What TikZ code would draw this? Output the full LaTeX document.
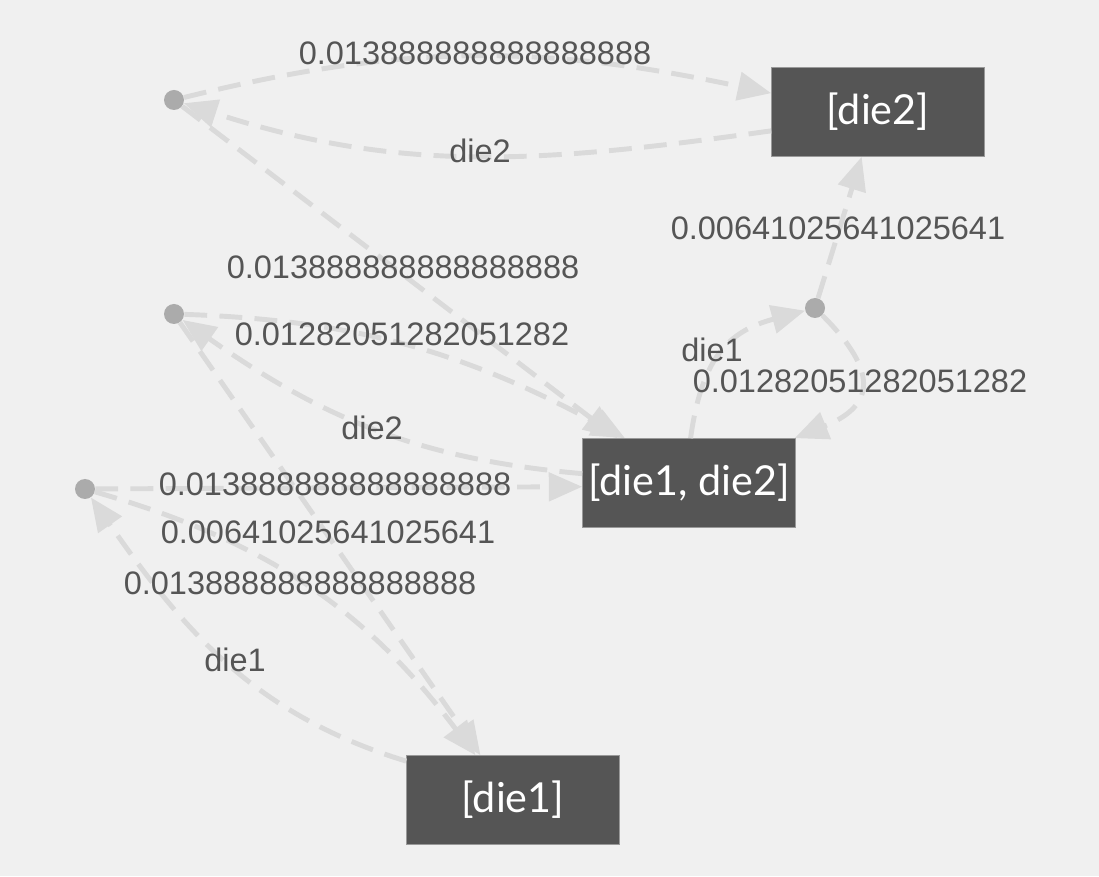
\documentclass[tikz,border=0pt]{standalone}
\usepackage{fontspec}
\setmainfont{Liberation Sans}
\newfontfamily\boxfont{Lato}
\usepackage{xcolor}
\usetikzlibrary{arrows.meta}

\definecolor{bgcol}{HTML}{F0F0F0}
\definecolor{boxcol}{HTML}{555555}
\definecolor{edgecol}{HTML}{DADADA}
\definecolor{dotcol}{HTML}{ABABAB}
\definecolor{txtcol}{HTML}{555555}

\begin{document}
\begin{tikzpicture}[
	x=0.02cm,y=0.02cm,
	>={Triangle[length=19pt,width=16pt]},
	statebox/.style={rectangle, fill=boxcol, draw=gray!80, line width=0.4pt,
		minimum width=4.26cm, minimum height=1.78cm, inner sep=0pt,
		text=white, font=\boxfont\fontsize{23.5pt}{26pt}\selectfont},
	pick/.style={circle, fill=dotcol, minimum size=0.4cm, inner sep=0pt},
	flow/.style={->, draw=edgecol, line width=2.8pt,
		dash pattern=on 13pt off 7pt},
	prob/.style={text=txtcol, inner sep=1pt, font=\fontsize{18.5pt}{22pt}\selectfont}
	]
	%----- canvas
	\fill[bgcol] (0,0) rectangle (1099,876);
	\useasboundingbox (0,0) rectangle (1099,876);
	
	%----- state boxes
	\node[statebox] (die2)  at (878,764) {[die2]};
	\node[statebox] (die12) at (689,393) {[die1, die2]};
	\node[statebox] (die1)  at (513,76)  {[die1]};
	
	%----- choice dots
	\node[pick] (pA) at (174,776) {};
	\node[pick] (pB) at (174,562) {};
	\node[pick] (pC) at (85,387)  {};
	\node[pick] (pD) at (815,568) {};
	
	%----- edges out of the dots
	\draw[flow] (pA) to[out=14,in=168] (die2.170);
	\draw[flow] (pA) -- (die12.148);
	\draw[flow] (pB) to[out=-2,in=152] (die12.145);
	\draw[flow] (pC) -- (die12.182);
	\draw[flow] (pC) to[out=-16,in=127] (die1.130);
	\draw[flow] (pB) -- (die1.126);
	\draw[flow] (pD) -- (die2.250);
	\draw[flow] (pD) to[out=-45,in=22,looseness=1.7] (die12.23);
	
	%----- edges back to the dots
	\draw[flow] (die2.190) to[out=188,in=-18] (pA);
	\draw[flow] (die12.175) to[out=175,in=-35] (pB);
	\draw[flow] (die1.160) to[out=163,in=-55] (pC);
	\draw[flow] (die12.88) to[out=82,in=195,looseness=1.2] (pD);
	
	%----- labels
	\node[prob] (l1)  at (475,823) {0.013888888888888888};
	\node[prob] (l2)  at (480,725) {die2};
	\node[prob] (l3)  at (403,609) {0.013888888888888888};
	\node[prob] (l4)  at (402,542) {0.01282051282051282};
	\node[prob] (l5)  at (372,448) {die2};
	\node[prob] (l6)  at (335,392) {0.013888888888888888};
	\node[prob] (l7)  at (328,344) {0.00641025641025641};
	\node[prob] (l8)  at (300,293) {0.013888888888888888};
	\node[prob] (l9)  at (235,216) {die1};
	\node[prob] (l10) at (712,526) {die1};
	\node[prob] (l11) at (838,648) {0.00641025641025641};
	\node[prob] (l12) at (860,495) {0.01282051282051282};
	
\end{tikzpicture}
\end{document}
